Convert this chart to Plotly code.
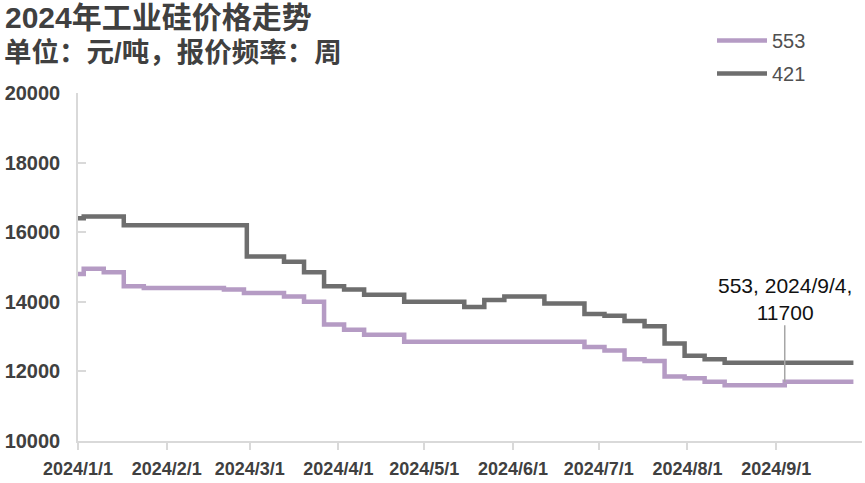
import plotly.graph_objects as go

# ---- data (weekly quotes; dates where the price changed) ----
dates_553 = ["2024-01-01", "2024-01-03", "2024-01-10", "2024-01-17", "2024-01-24",
             "2024-02-21", "2024-02-28", "2024-03-13", "2024-03-20", "2024-03-27",
             "2024-04-03", "2024-04-10", "2024-04-24", "2024-06-26", "2024-07-03",
             "2024-07-10", "2024-07-17", "2024-07-24", "2024-07-31", "2024-08-07",
             "2024-08-14", "2024-09-04", "2024-09-28"]
price_553 = [14800, 14950, 14850, 14450, 14400,
             14350, 14250, 14150, 14000, 13350,
             13200, 13050, 12850, 12700, 12600,
             12350, 12300, 11850, 11800, 11700,
             11600, 11700, 11700]

dates_421 = ["2024-01-01", "2024-01-03", "2024-01-17", "2024-02-29", "2024-03-13",
             "2024-03-20", "2024-03-27", "2024-04-03", "2024-04-10", "2024-04-24",
             "2024-05-15", "2024-05-22", "2024-05-29", "2024-06-12", "2024-06-26",
             "2024-07-03", "2024-07-10", "2024-07-17", "2024-07-24", "2024-07-31",
             "2024-08-07", "2024-08-14", "2024-09-28"]
price_421 = [16400, 16450, 16200, 15300, 15150,
             14850, 14450, 14350, 14200, 14000,
             13850, 14050, 14150, 13950, 13650,
             13600, 13450, 13300, 12800, 12450,
             12350, 12250, 12250]

tick_dates = ["2024-01-01", "2024-02-01", "2024-03-01", "2024-04-01", "2024-05-01",
              "2024-06-01", "2024-07-01", "2024-08-01", "2024-09-01"]
tick_text = ["2024/1/1", "2024/2/1", "2024/3/1", "2024/4/1", "2024/5/1",
             "2024/6/1", "2024/7/1", "2024/8/1", "2024/9/1"]
y_ticks = [10000, 12000, 14000, 16000, 18000, 20000]

anno_date = "2024-09-04"
anno_value = 11700

title = "2024年工业硅价格走势"
subtitle = "单位：元/吨，报价频率：周"

PURPLE = "#b59bc4"
GRAY = "#6e6e6e"
TXT = "#404040"
AXIS = "#d9d9d9"
HEAD_FONT = "Liberation Sans, Noto Sans CJK SC"

fig = go.Figure()
fig.add_trace(go.Scatter(x=dates_553, y=price_553, name="553", mode="lines",
                         line=dict(color=PURPLE, width=4.5, shape="hv"),
                         legendgroup="a"))
fig.add_trace(go.Scatter(x=dates_421, y=price_421, name="421", mode="lines",
                         line=dict(color=GRAY, width=4.5, shape="hv"),
                         legendgroup="b"))

W, H = 865, 483
L, R, T, B = 78, 3, 93, 42
ph = H - T - B
pw = W - L - R

def ypap(py):
    return (H - B - py) / ph

fig.update_layout(
    width=W, height=H,
    margin=dict(l=L, r=R, t=T, b=B, autoexpand=False),
    plot_bgcolor="white", paper_bgcolor="white",
    showlegend=True,
    title=dict(text=title, x=5 / W, xanchor="left", xref="container",
               y=1 - 17 / H, yanchor="middle", yref="container",
               font=dict(family=HEAD_FONT, size=30, color=TXT, weight="bold")),
    legend=dict(x=(712 - L) / pw, y=ypap(21), xanchor="left", yanchor="top",
                font=dict(family="Liberation Sans, Arial", size=20, color="#505050"),
                itemwidth=50, tracegroupgap=4, bgcolor="rgba(0,0,0,0)"),
    xaxis=dict(type="date", range=["2024-01-01", "2024-10-01"],
               tickvals=tick_dates, ticktext=tick_text,
               showgrid=False, zeroline=False, automargin=False,
               showline=True, linecolor=AXIS, linewidth=1.5,
               ticks="outside", ticklen=7, tickcolor=AXIS, tickwidth=1.5,
               ticklabelstandoff=4,
               tickfont=dict(family="Liberation Sans Narrow, Liberation Sans", size=18, color=TXT, weight="bold")),
    yaxis=dict(range=[10000, 20000], tickvals=y_ticks, tickformat="d",
               showgrid=False, zeroline=False, automargin=False,
               showline=True, linecolor=AXIS, linewidth=1.5,
               ticks="inside", ticklen=8, tickcolor=AXIS, tickwidth=1.5,
               ticklabelstandoff=12,
               tickfont=dict(family="Liberation Sans, Arial", size=20, color=TXT, weight="bold")),
    annotations=[
        dict(xref="paper", yref="paper", x=-(L - 2) / pw, y=ypap(52),
             xanchor="left", yanchor="middle", showarrow=False, text=subtitle,
             font=dict(family=HEAD_FONT, size=27.5, color=TXT, weight="bold")),
        dict(x=anno_date, y=anno_value, xref="x", yref="y",
             text=f"553, 2024/9/4,<br>{anno_value}",
             showarrow=True, arrowhead=0, arrowwidth=1.5, arrowcolor="#a6a6a6",
             ax=0, ay=-83, standoff=0,
             font=dict(family="Liberation Sans, Arial", size=21, color="#111111")),
    ],
)

fig.write_html("out.html",
               config={"displayModeBar": False},
               post_script="document.body.style.margin='0';document.body.style.padding='0';")
